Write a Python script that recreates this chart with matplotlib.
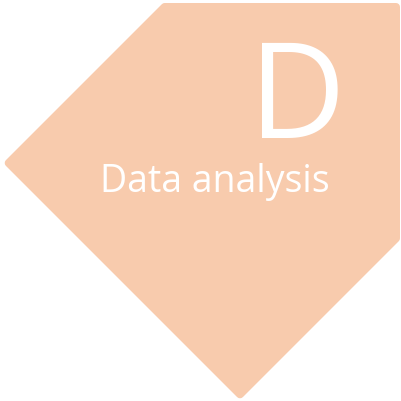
import matplotlib.pyplot as plt
from matplotlib.patches import Polygon

# shape outline (pixel coords, y down), inset so the round stroke gives soft corners
shape_x = [8.7, 164.7, 396, 396, 240]
shape_y = [163, 7, 7, 238.3, 394.3]
fill_color = "#F8CBAD"

letter = "D"
label = "Data analysis"

fig = plt.figure(figsize=(4.01, 4.01), dpi=100)
ax = fig.add_axes([0, 0, 1, 1])
ax.set_xlim(0, 401)
ax.set_ylim(401, 0)
ax.axis("off")

poly = Polygon(list(zip(shape_x, shape_y)), closed=True, facecolor=fill_color,
               edgecolor=fill_color, linewidth=5.76, joinstyle="round")
ax.add_patch(poly)

ax.text(297, 138, letter, color="white", fontsize=96, fontfamily="Open Sans",
        fontweight="normal", ha="center", va="baseline")
ax.text(215, 192, label, color="white", fontsize=27, fontfamily="Open Sans",
        fontweight="normal", ha="center", va="baseline")

fig.savefig("out.png", dpi=100)
